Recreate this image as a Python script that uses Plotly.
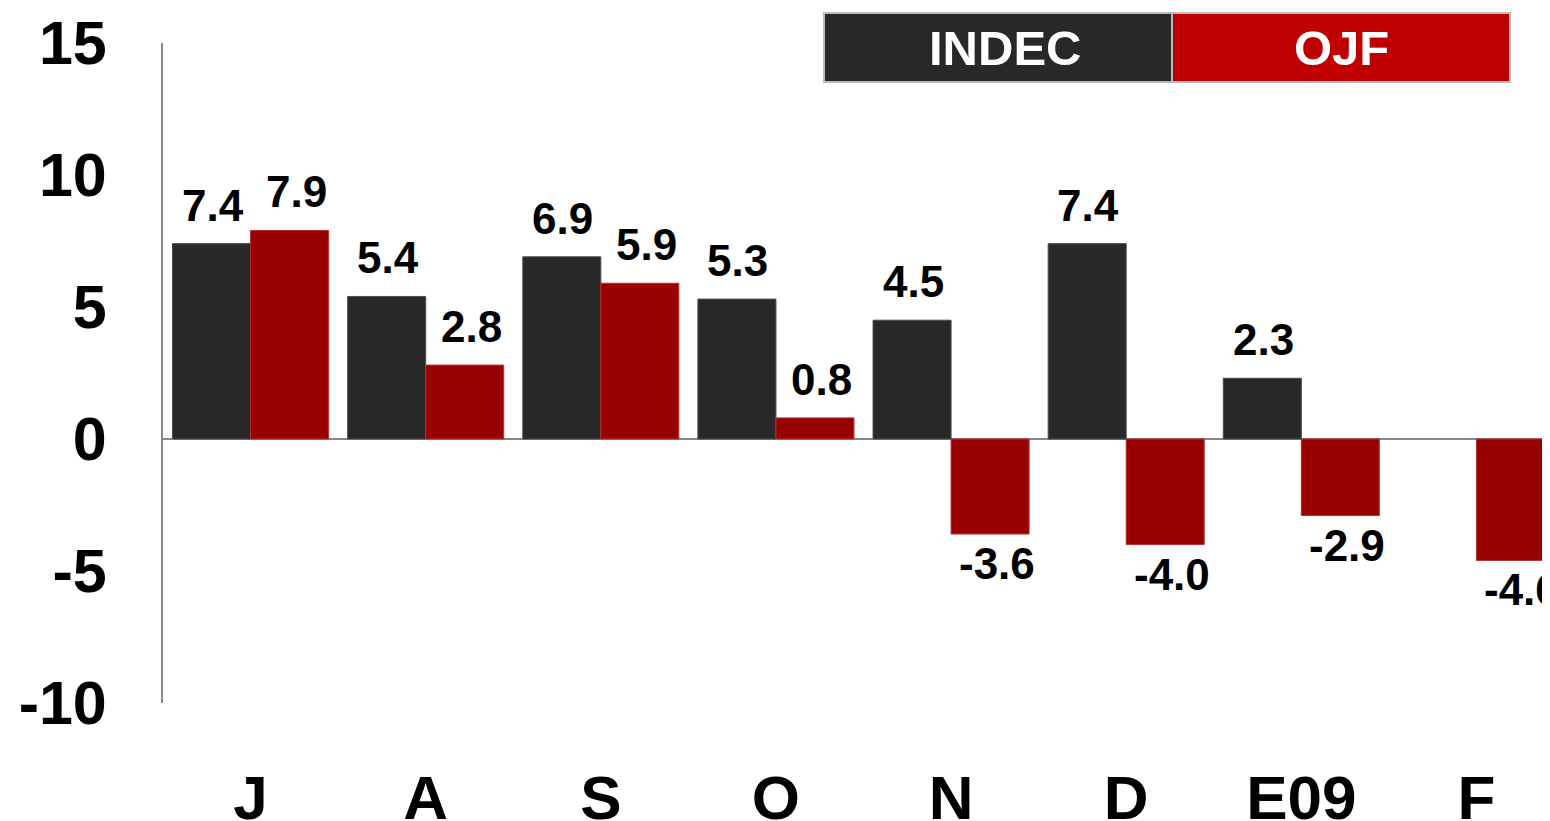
import plotly.graph_objects as go

categories = ["J", "A", "S", "O", "N", "D", "E09", "F"]
indec = [7.4, 5.4, 6.9, 5.3, 4.5, 7.4, 2.3, None]
ojf = [7.9, 2.8, 5.9, 0.8, -3.6, -4.0, -2.9, -4.6]
y_ticks = [-10, -5, 0, 5, 10, 15]
y_tick_text = ["-10", "-5", "0", "5", "10", "15"]

FONT = "Liberation Sans, Arial, sans-serif"
OFF = 8  # page body margin
W, H = 1550 - OFF, 821 - OFF
L, R, T, B = 163 - OFF, 0, 43 - OFF, 118
PW, PH = W - L - R, H - T - B

fig = go.Figure()
fig.add_trace(go.Bar(
    x=categories, y=indec, name="INDEC",
    marker=dict(color="#282828", line=dict(width=1, color="#4a4a4a")),
))
fig.add_trace(go.Bar(
    x=categories, y=ojf, name="OJF",
    marker=dict(color="#990000", line=dict(width=1, color="#b83030")),
))

annotations = []
for vals, shift in ((indec, -38), (ojf, 46)):
    for c, v in zip(categories, vals):
        if v is None:
            continue
        pos = v >= 0
        annotations.append(dict(
            x=c, y=v, xref="x", yref="y", text=f"{v:.1f}", showarrow=False,
            xshift=shift, yshift=12 if pos else -3,
            xanchor="center", yanchor="bottom" if pos else "top",
            font=dict(family=FONT, size=44, color="black", weight="bold"),
        ))

# page-pixel helpers -> paper coords
def px(x):
    return (x - OFF - L) / PW

def py(y):
    return (H - B - (y - OFF)) / PH

annotations += [
    dict(text="INDEC", xref="paper", yref="paper",
         x=px(1005), y=py(48), showarrow=False, xanchor="center", yanchor="middle",
         font=dict(family=FONT, size=49, color="white", weight="bold")),
    dict(text="OJF", xref="paper", yref="paper",
         x=px(1341), y=py(48), showarrow=False, xanchor="center", yanchor="middle",
         font=dict(family=FONT, size=49, color="white", weight="bold")),
]

fig.update_layout(
    width=W, height=H,
    margin=dict(l=L, r=R, t=T, b=B, autoexpand=False),
    paper_bgcolor="white", plot_bgcolor="white",
    barmode="group", bargap=0.109, bargroupgap=0,
    showlegend=False,
    xaxis=dict(
        type="category", range=[-0.5, 7.42], automargin=False,
        showgrid=False, showline=False, zeroline=False, ticks="",
        tickfont=dict(family=FONT, size=62, color="black", weight="bold"),
        ticklabelstandoff=53,
    ),
    yaxis=dict(
        range=[-10, 15], tickvals=y_ticks, ticktext=y_tick_text, automargin=False,
        showgrid=False, showline=True, linecolor="#888888", linewidth=2,
        zeroline=True, zerolinecolor="#888888", zerolinewidth=2,
        ticks="",
        tickfont=dict(family=FONT, size=61, color="black", weight="bold"),
        ticklabelstandoff=42,
    ),
    shapes=[
        dict(type="rect", xref="paper", yref="paper",
             x0=px(824), x1=px(1172), y0=py(82), y1=py(13),
             fillcolor="#282828", line=dict(color="#bbbbbb", width=2), layer="above"),
        dict(type="rect", xref="paper", yref="paper",
             x0=px(1172), x1=px(1510), y0=py(82), y1=py(13),
             fillcolor="#c00000", line=dict(color="#bbbbbb", width=2), layer="above"),
    ],
    annotations=annotations,
)

fig.write_html("out.html")
